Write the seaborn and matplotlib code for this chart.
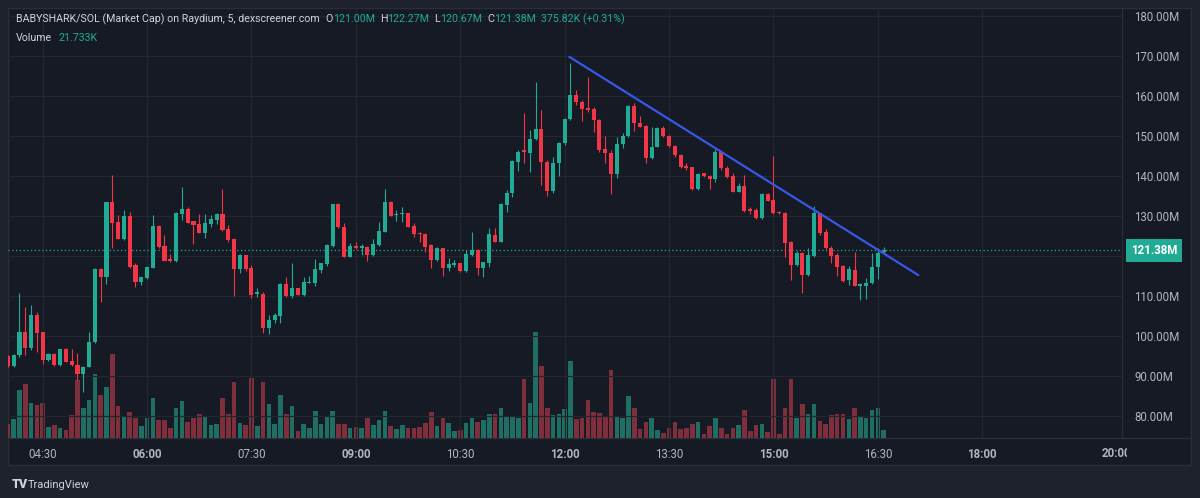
import matplotlib
matplotlib.use("Agg")
import matplotlib.pyplot as plt
from matplotlib.patches import Rectangle
from matplotlib.lines import Line2D
from matplotlib.transforms import Bbox, IdentityTransform, blended_transform_factory
import numpy as np
import pandas as pd
import seaborn as sns

# 5-minute candles from 04:00 to 16:35, market cap in millions
opens = [
    95.0, 92.5, 95.25, 101.1, 96.9, 105.25, 100.9, 94.0, 95.5, 92.75,
    96.7, 93.75, 92.75, 90.4, 92.3, 98.4, 116.8, 114.7, 133.4, 128.6,
    124.25, 130.0, 117.7, 113.5, 114.4, 117.1, 127.6, 122.5, 119.2, 118.7,
    130.5, 131.75, 128.75, 127.9, 125.8, 128.0, 129.0, 130.5, 126.7, 124.2,
    116.8, 120.2, 117.0, 110.6, 110.5, 102.1, 104.0, 105.0, 113.1, 110.0,
    111.9, 110.25, 113.3, 113.2, 116.5, 118.0, 122.5, 132.9, 127.3, 119.8,
    122.6, 122.1, 122.3, 120.25, 122.75, 126.1, 133.6, 130.3, 130.4, 130.7,
    127.6, 125.8, 125.5, 122.75, 119.0, 121.9, 116.9, 117.8, 118.2, 116.3,
    120.25, 121.5, 116.9, 118.2, 125.25, 123.6, 132.75, 135.7, 143.6, 146.5,
    145.8, 149.2, 151.7, 143.6, 136.25, 143.2, 148.3, 154.2, 160.25, 158.6,
    156.9, 156.7, 154.0, 146.7, 145.8, 140.4, 147.9, 150.1, 157.5, 153.3,
    152.5, 144.4, 147.3, 151.9, 150.0, 147.5, 145.25, 142.5, 142.2, 136.7,
    140.7, 140.0, 139.2, 146.1, 142.1, 140.0, 136.1, 137.5, 131.7, 131.5,
    129.6, 135.5, 134.0, 131.1, 130.7, 123.6, 117.75, 120.8, 115.25, 120.0,
    130.7, 125.9, 122.1, 120.25, 117.5, 114.0, 116.5, 112.6, 112.6, 113.2,
    117.2, 121.0]
closes = [
    92.5, 95.25, 101.1, 96.9, 105.25, 100.8, 94.0, 95.4, 92.75, 96.7,
    93.6, 92.75, 90.4, 92.3, 98.4, 116.8, 114.7, 133.4, 128.3, 124.25,
    130.0, 117.3, 113.5, 114.7, 117.3, 127.6, 122.2, 118.8, 118.7, 130.8,
    131.75, 128.3, 127.75, 125.8, 128.2, 129.2, 130.5, 126.5, 124.0, 116.8,
    120.2, 116.8, 110.25, 110.7, 102.1, 104.0, 105.25, 113.1, 110.0, 111.9,
    110.3, 113.5, 113.5, 116.7, 118.2, 122.7, 132.9, 127.2, 119.8, 122.5,
    121.9, 122.3, 120.25, 122.9, 126.25, 133.6, 130.1, 130.5, 130.7, 127.3,
    125.5, 125.4, 122.3, 119.0, 121.9, 116.9, 118.0, 118.2, 116.3, 120.5,
    121.5, 116.9, 118.4, 125.4, 123.6, 132.9, 135.8, 143.75, 146.1, 146.0,
    149.2, 151.7, 143.6, 136.25, 143.2, 148.3, 154.2, 160.25, 158.6, 156.7,
    156.5, 154.0, 146.5, 145.8, 140.4, 147.9, 150.1, 157.5, 153.2, 152.3,
    144.4, 147.3, 151.9, 150.0, 147.5, 145.25, 142.3, 142.1, 136.7, 140.5,
    140.0, 139.2, 146.1, 141.9, 139.7, 136.1, 137.5, 131.3, 131.25, 129.6,
    135.5, 133.8, 130.7, 130.8, 123.3, 117.75, 120.8, 115.25, 120.25, 130.7,
    125.7, 121.9, 120.0, 117.2, 113.7, 116.7, 112.6, 113.0, 113.3, 117.3,
    120.8, 121.38]
highs = [
    95.2, 95.4, 110.7, 107.3, 107.75, 106.1, 101.0, 95.7, 95.8, 96.8,
    96.9, 96.7, 95.7, 92.4, 101.1, 116.9, 116.9, 133.5, 140.25, 130.25,
    131.5, 131.1, 118.3, 114.8, 117.5, 130.25, 127.75, 125.25, 120.4, 131.1,
    137.3, 132.3, 128.8, 130.5, 130.5, 130.25, 130.7, 136.7, 127.75, 124.4,
    120.4, 120.3, 117.75, 111.9, 111.1, 105.25, 105.7, 113.3, 114.8, 118.2,
    112.0, 114.7, 115.0, 119.3, 118.3, 123.0, 133.0, 133.3, 128.2, 123.2,
    123.6, 123.0, 122.6, 124.2, 128.6, 136.7, 133.75, 131.5, 132.2, 130.8,
    128.2, 126.0, 125.7, 123.0, 122.3, 122.1, 119.4, 119.0, 118.3, 121.5,
    125.9, 121.7, 118.6, 126.9, 126.9, 133.2, 136.5, 144.0, 146.5, 155.7,
    151.5, 163.6, 156.5, 144.0, 144.8, 148.6, 154.4, 168.2, 161.5, 159.0,
    164.8, 157.2, 154.2, 150.0, 146.5, 149.7, 150.7, 157.75, 158.3, 155.0,
    152.75, 152.2, 152.2, 152.5, 150.25, 147.75, 145.5, 143.2, 142.3, 140.7,
    140.8, 140.25, 146.7, 146.3, 142.5, 140.8, 138.3, 140.25, 132.3, 131.9,
    135.7, 135.7, 145.0, 131.3, 131.1, 123.75, 121.25, 121.1, 122.1, 132.5,
    130.8, 126.7, 122.5, 120.8, 117.7, 117.6, 121.1, 113.2, 114.4, 120.8,
    121.9, 122.27]
lows = [
    92.3, 92.3, 94.8, 95.25, 96.5, 96.1, 93.0, 93.8, 92.5, 92.6,
    93.4, 92.5, 89.0, 86.1, 92.2, 98.2, 108.6, 113.0, 121.9, 124.2,
    124.0, 116.9, 112.3, 112.75, 114.2, 116.9, 122.1, 118.7, 118.6, 118.6,
    129.0, 128.2, 123.0, 125.7, 124.4, 127.2, 127.9, 126.3, 123.6, 110.0,
    115.7, 116.25, 109.6, 109.7, 100.7, 100.5, 103.2, 103.2, 109.8, 109.4,
    110.25, 110.0, 113.2, 112.5, 115.8, 117.5, 122.3, 127.0, 119.7, 119.7,
    121.75, 120.25, 118.8, 120.1, 122.6, 125.9, 129.9, 128.8, 128.6, 127.2,
    124.8, 123.6, 121.1, 116.9, 118.8, 115.0, 116.3, 117.3, 116.1, 116.1,
    120.1, 115.25, 114.7, 117.3, 123.4, 123.4, 130.9, 134.8, 141.3, 143.2,
    141.1, 149.0, 137.75, 135.1, 135.7, 140.0, 147.75, 154.0, 157.75, 153.8,
    156.1, 151.1, 146.1, 143.2, 135.5, 139.4, 146.9, 149.8, 151.3, 152.2,
    143.3, 144.25, 147.2, 149.8, 147.3, 144.8, 141.9, 141.5, 136.5, 136.5,
    139.8, 136.7, 138.6, 141.5, 139.4, 136.1, 135.9, 131.1, 130.4, 129.25,
    129.2, 133.7, 130.5, 130.5, 119.7, 114.0, 117.6, 110.8, 115.0, 119.8,
    125.25, 121.7, 118.3, 115.0, 113.5, 112.75, 112.6, 109.0, 109.25, 113.0,
    114.25, 120.67]
# volume in thousands
volumes = [
    37, 50, 130, 147, 94, 88, 94, 30, 35, 28,
    22, 62, 157, 80, 102, 174, 116, 138, 226, 86,
    59, 71, 53, 32, 55, 109, 49, 49, 26, 80,
    99, 43, 55, 64, 57, 35, 37, 107, 64, 152,
    41, 35, 161, 32, 152, 93, 39, 115, 65, 86,
    19, 39, 28, 74, 39, 59, 74, 39, 39, 28,
    30, 26, 55, 34, 49, 73, 32, 23, 34, 26,
    26, 30, 41, 70, 32, 55, 41, 19, 22, 41,
    55, 44, 49, 66, 66, 82, 58, 57, 55, 160,
    95, 287, 194, 82, 62, 66, 79, 208, 50, 53,
    103, 71, 68, 60, 183, 57, 53, 113, 82, 23,
    44, 53, 22, 14, 28, 44, 25, 28, 37, 44,
    12, 32, 55, 27, 12, 27, 34, 75, 19, 34,
    38, 16, 160, 12, 82, 160, 53, 91, 64, 91,
    46, 38, 62, 66, 64, 50, 82, 57, 53, 75,
    80, 21.733]

# candle index of each time label (index 0 = 04:00)
time_ticks = [6, 24, 42, 60, 78, 96, 114, 132, 150, 168]
time_labels = ["04:30", "06:00", "07:30", "09:00", "10:30", "12:00",
               "13:30", "15:00", "16:30", "18:00"]
edge_tick, edge_label = 192, "20:00"
price_ticks = [80, 90, 100, 110, 120, 130, 140, 150, 160, 170, 180]

# drawn trend line (candle index, market cap)
trend_x = [96.8, 157.0]
trend_y = [169.8, 115.2]

change_label = "375.82K (+0.31%)"
symbol_label = "BABYSHARK/SOL (Market Cap) on Raydium, 5, dexscreener.com"

OUTER = "#1e222d"
BG = "#161a25"
BORDER = "#2a2e39"
GRID = "#22262f"
TXT = "#d1d4dc"
AXTXT = "#b2b5be"
UP = "#22ab94"
DOWN = "#f23645"
VUP = "#1f6e64"
VDOWN = "#7e2f3b"
TREND = "#3658e6"

sns.set_theme(style="dark")
plt.rcParams["font.family"] = ["Roboto", "DejaVu Sans"]

W, H = 1200, 498
fig = plt.figure(figsize=(W / 100, H / 100), dpi=100, facecolor=OUTER)

def fx(px):
    return px / W

def fy(py):
    return 1 - py / H

# chart panel incl. price and time scales
fig.patches.append(Rectangle((fx(8), fy(465)), fx(1191) - fx(8), fy(8) - fy(465),
                             transform=fig.transFigure, facecolor=BG,
                             edgecolor=BORDER, lw=1, zorder=-5))
fig.add_artist(Line2D([fx(1122), fx(1122)], [fy(438), fy(8)], color=BORDER, lw=1, zorder=-4))
fig.add_artist(Line2D([fx(8), fx(1191)], [fy(438), fy(438)], color=BORDER, lw=1, zorder=-4))

rect = [fx(8), fy(438), fx(1122) - fx(8), fy(8) - fy(438)]
xlim = (0.02, 192.1)

df = pd.DataFrame({"idx": np.arange(len(opens)), "open": opens, "close": closes,
                   "high": highs, "low": lows, "vol": volumes})
df["dir"] = np.where(df["close"] >= df["open"], "up", "down")

# volume pane (behind candles)
axv = fig.add_axes(rect)
sns.barplot(data=df, x="idx", y="vol", hue="dir", palette={"up": VUP, "down": VDOWN},
            native_scale=True, dodge=False, width=0.78, saturation=1, errorbar=None,
            legend=False, linewidth=0, ax=axv)
axv.set_xlim(xlim)
axv.set_ylim(0, 430 * 2.7)
axv.axis("off")

ax = fig.add_axes(rect)
ax.patch.set_visible(False)
ax.set_xlim(xlim)
ax.set_ylim(180 - 422 / 4.0, 180 + 8 / 4.0)

colors = np.where(df["dir"] == "up", UP, DOWN)
ax.vlines(df["idx"], df["low"], df["high"], colors=colors, lw=0.8, zorder=3)
body_lo = np.minimum(df["open"], df["close"])
body_h = np.maximum((df["close"] - df["open"]).abs(), 0.3)
ax.bar(df["idx"], body_h, bottom=body_lo, width=0.7, color=colors, lw=0, zorder=4)

ax.plot(trend_x, trend_y, color=TREND, lw=1.6, solid_capstyle="round", zorder=5)

last = closes[-1]
ax.axhline(last, color=UP, ls=(0, (1, 2)), lw=0.9, zorder=2)

ax.set_yticks(price_ticks, ["" if v == 120 else f"{v:.2f}M" for v in price_ticks])
ax.yaxis.tick_right()
ax.set_xticks(time_ticks, time_labels)
ax.tick_params(axis="y", length=0, pad=9, labelsize=8.3, labelcolor=AXTXT)
ax.tick_params(axis="x", length=0, pad=7, labelsize=8.3, labelcolor=AXTXT)
for lbl in ax.get_xticklabels():
    if lbl.get_text().endswith(":00"):
        lbl.set_fontweight("bold")
ax.grid(True, color=GRID, lw=0.9)
ax.set_axisbelow(True)
for s in ax.spines.values():
    s.set_visible(False)

# partly hidden last time label (cut off by the frame like in the app)
t = fig.text(0, 0, edge_label, transform=blended_transform_factory(ax.transData, ax.transAxes),
             ha="center", va="top", fontsize=8.3, color=AXTXT, fontweight="bold")
t.set_position((edge_tick - 0.8, -7 / 430 - 0.005))
t.set_clip_on(True)
t.set_clip_box(Bbox.from_extents(0, 0, 1127, H))

# last price tag
ax.annotate(f"{last:.2f}M", xy=(1, last), xycoords=("axes fraction", "data"),
            xytext=(6.5, 0), textcoords="offset points", ha="left", va="center",
            fontsize=8.3, color="white", fontweight="bold", annotation_clip=False,
            bbox=dict(boxstyle="square,pad=0.42", fc=UP, ec="none"))

# header legend
renderer = fig.canvas.get_renderer()

def chain(parts, x, y, size):
    for s, c, gap in parts:
        txt = fig.text(x, H - y, s, color=c, fontsize=size, ha="left", va="baseline",
                       transform=IdentityTransform())
        x = txt.get_window_extent(renderer).x1 + gap

chain([(symbol_label, TXT, 6),
       ("O", TXT, 0), (f"{opens[-1]:.2f}M", UP, 5),
       ("H", TXT, 0), (f"{highs[-1]:.2f}M", UP, 5),
       ("L", TXT, 0), (f"{lows[-1]:.2f}M", UP, 5),
       ("C", TXT, 0), (f"{closes[-1]:.2f}M", UP, 5),
       (change_label, UP, 0)], 16, 22, 7.7)
chain([("Volume", TXT, 6), (f"{volumes[-1]:.3f}K", UP, 0)], 16, 41, 7.7)

# footer logo
fig.text(12, H - 488, "TV", transform=IdentityTransform(), fontsize=9, fontweight="heavy",
         color=TXT, va="baseline")
fig.text(28, H - 488, "TradingView", transform=IdentityTransform(), fontsize=8,
         color=TXT, va="baseline")

fig.savefig("out.png", dpi=100, facecolor=fig.get_facecolor())
